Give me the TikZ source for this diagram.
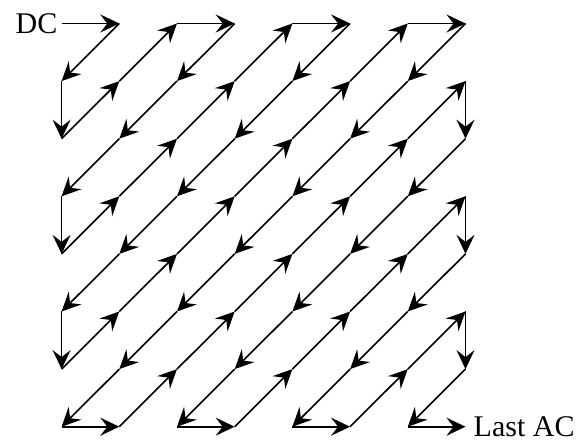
\documentclass[tikz,border=0pt]{standalone}
\usepackage{fontspec}
\setmainfont{Liberation Serif}
\usetikzlibrary{arrows.meta}
\tikzset{
  zz/.style={line width=1.6pt, -{Stealth[length=19pt,width=18pt,inset=7pt]}},
  lbl/.style={font=\fontsize{30}{36}\selectfont, inner sep=0pt}
}
\begin{document}
\begin{tikzpicture}[x=1pt,y=1pt]
\useasboundingbox (0,0) rectangle (583,439);
\foreach \i in {0,...,7}{
  \foreach \j in {0,...,7}{
    \coordinate (p\i\j) at ({61.6+57.7*\i},{439-23.5-57.6*\j});
  }
}
\node[lbl, anchor=east, xshift=-4pt] (dc) at (p00) {DC};
\node[lbl, anchor=west, xshift=8pt] (last) at (p77) {Last AC};
\def\zzlist{00,10,01,02,11,20,30,21,12,03,04,13,22,31,40,50,41,32,23,14,05,06,15,24,33,42,51,60,70,61,52,43,34,25,16,07,17,26,35,44,53,62,71,72,63,54,45,36,27,37,46,55,64,73,74,65,56,47,57,66,75,76,67,77}
\def\prev{}
\foreach \p in \zzlist{
  \ifx\prev\empty\else
    \draw[zz] (p\prev) -- (p\p);
  \fi
  \xdef\prev{\p}
}
\end{tikzpicture}
\end{document}
